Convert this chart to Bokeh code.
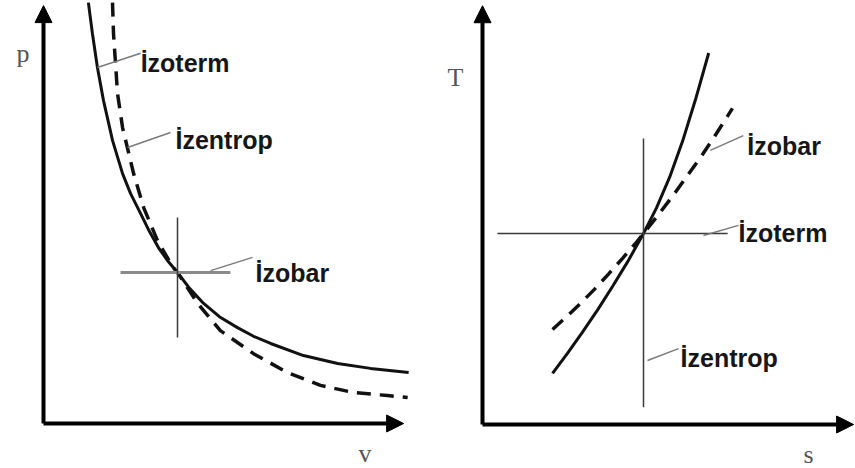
from bokeh.plotting import figure
from bokeh.layouts import row
from bokeh.models import Range1d, Arrow, NormalHead
from bokeh.core.properties import value
from bokeh.embed import file_html
from bokeh.resources import INLINE

# ---------------- p-v diagram ----------------
# isotherm (solid) through the state point (4, 4)
pv_isotherm_v = [1.34, 1.46, 1.61, 1.79, 2.06, 2.36, 2.60, 2.90, 3.16, 3.43, 3.70, 4.00,
                 4.36, 4.78, 5.25, 5.79, 6.27, 6.78, 7.76, 8.78, 9.76, 10.90]
pv_isotherm_p = [11.15, 10.33, 9.43, 8.56, 7.50, 6.62, 6.09, 5.56, 5.09, 4.66, 4.32, 4.00,
                 3.58, 3.18, 2.83, 2.54, 2.31, 2.12, 1.80, 1.59, 1.46, 1.35]
# isentrope (dashed), steeper than the isotherm
pv_isentrope_v = [2.06, 2.09, 2.21, 2.36, 2.69, 2.99, 3.40, 3.85, 4.00, 4.60, 5.28, 6.27, 7.28, 8.27, 9.25, 10.27, 10.87]
pv_isentrope_p = [11.15, 10.33, 8.74, 7.84, 6.62, 5.72, 4.85, 4.16, 4.00, 3.18, 2.46, 1.85, 1.35, 1.01, 0.82, 0.74, 0.69]
# isobar (horizontal) and isochore (vertical) through the state point
pv_isobar_v = [2.30, 5.58]
pv_isobar_p = [4.0, 4.0]
pv_isochore_v = [4.0, 4.0]
pv_isochore_p = [2.28, 5.46]
# labels and their leader lines
pv_labels = ["İzoterm", "İzentrop", "İzobar"]
pv_label_v = [2.90, 3.94, 6.33]
pv_label_p = [9.56, 7.50, 4.00]
pv_leader_v0 = [1.61, 2.51, 4.99]
pv_leader_p0 = [9.43, 7.31, 4.05]
pv_leader_v1 = [2.90, 3.79, 6.24]
pv_leader_p1 = [9.81, 7.71, 4.40]
pv_axis_v_end = 10.75
pv_axis_p_end = 11.07

# ---------------- T-s diagram ----------------
# steep solid curve through the state point (4, 4)
ts_isochore_s = [1.74, 2.11, 2.48, 2.86, 3.23, 3.60, 4.00, 4.32, 4.65, 4.97, 5.29, 5.62]
ts_isochore_T = [1.07, 1.49, 1.93, 2.40, 2.89, 3.40, 4.00, 4.53, 5.18, 5.93, 6.80, 7.78]
# isobar (dashed)
ts_isobar_s = [1.74, 2.09, 2.44, 2.78, 3.13, 3.48, 3.83, 4.00, 4.35, 4.72, 5.09, 5.47, 5.84, 6.21]
ts_isobar_T = [1.99, 2.26, 2.54, 2.83, 3.15, 3.48, 3.82, 4.00, 4.37, 4.78, 5.21, 5.66, 6.13, 6.62]
# isotherm (horizontal) and isentrope (vertical)
ts_isotherm_s = [0.37, 6.09]
ts_isotherm_T = [4.0, 4.0]
ts_isentrope_s = [4.0, 4.0]
ts_isentrope_T = [0.36, 5.99]
ts_labels = ["İzobar", "İzoterm", "İzentrop"]
ts_label_s = [6.58, 6.36, 4.92]
ts_label_T = [5.84, 4.02, 1.40]
ts_leader_s0 = [5.66, 5.49, 4.10]
ts_leader_T0 = [5.74, 3.96, 1.34]
ts_leader_s1 = [6.48, 6.36, 4.87]
ts_leader_T1 = [6.05, 4.17, 1.59]
ts_axis_s_end = 9.22
ts_axis_T_end = 8.77

LABEL_FONT = value("Liberation Sans")
AXIS_FONT = value("Liberation Serif")
CURVE = "#111111"
THIN = "#3a3a3a"
LEADER = "#7a7a7a"


def base_figure(width, x_range, y_range):
    p = figure(width=width, height=468, x_range=x_range, y_range=y_range,
               x_axis_type=None, y_axis_type=None, output_backend="svg",
               toolbar_location=None, min_border=0)
    p.grid.visible = False
    p.outline_line_color = None
    p.background_fill_color = "white"
    p.border_fill_color = "white"
    return p


def add_axes(p, x_end, y_end, x_name, y_name, x_name_pos, y_name_pos):
    for xe, ye in ((x_end, 0), (0, y_end)):
        p.add_layout(Arrow(x_start=0, y_start=0, x_end=xe, y_end=ye,
                           line_width=4, line_color="black",
                           end=NormalHead(size=17, fill_color="black", line_color="black", line_width=1)))
    p.text(x=[x_name_pos[0], y_name_pos[0]], y=[x_name_pos[1], y_name_pos[1]],
           text=[x_name, y_name], text_font=AXIS_FONT, text_font_size="26px",
           text_color="#555555", text_align="center", text_baseline="alphabetic")


def add_labels(p, xs, ys, labels):
    p.text(xs, ys, text=labels, text_font=LABEL_FONT, text_font_size="25px",
           text_font_style="bold", text_color="#161616",
           text_baseline="alphabetic", text_align="left")


# p-v panel
p1 = base_figure(430, Range1d(-43 / 33.5, 387 / 33.5), Range1d(-45 / 37.75, 423 / 37.75))
add_axes(p1, pv_axis_v_end, pv_axis_p_end, "v", "p", (9.6, -0.79), (-0.61, 9.80))
p1.line(pv_isotherm_v, pv_isotherm_p, line_width=3, line_color=CURVE)
p1.line(pv_isentrope_v, pv_isentrope_p, line_width=3.5, line_color=CURVE, line_dash="14 9")
p1.line(pv_isobar_v, pv_isobar_p, line_width=3, line_color="#8a8a8a")
p1.line(pv_isochore_v, pv_isochore_p, line_width=1.5, line_color=THIN)
p1.segment(pv_leader_v0, pv_leader_p0, pv_leader_v1, pv_leader_p1, line_width=1.5, line_color=LEADER)
add_labels(p1, pv_label_v, pv_label_p, pv_labels)

# T-s panel
p2 = base_figure(425, Range1d(-52 / 40.25, 373 / 40.25), Range1d(-44 / 47.75, 424 / 47.75))
add_axes(p2, ts_axis_s_end, ts_axis_T_end, "s", "T", (8.1, -0.62), (-0.67, 7.27))
p2.line(ts_isochore_s, ts_isochore_T, line_width=3, line_color=CURVE)
p2.line(ts_isobar_s, ts_isobar_T, line_width=3.5, line_color=CURVE, line_dash="14 9")
p2.line(ts_isotherm_s, ts_isotherm_T, line_width=1.5, line_color=THIN)
p2.line(ts_isentrope_s, ts_isentrope_T, line_width=1.5, line_color=THIN)
p2.segment(ts_leader_s0, ts_leader_T0, ts_leader_s1, ts_leader_T1, line_width=1.5, line_color=LEADER)
add_labels(p2, ts_label_s, ts_label_T, ts_labels)

layout = row(p1, p2, spacing=0)
open("out.html", "w").write(file_html(layout, INLINE))
